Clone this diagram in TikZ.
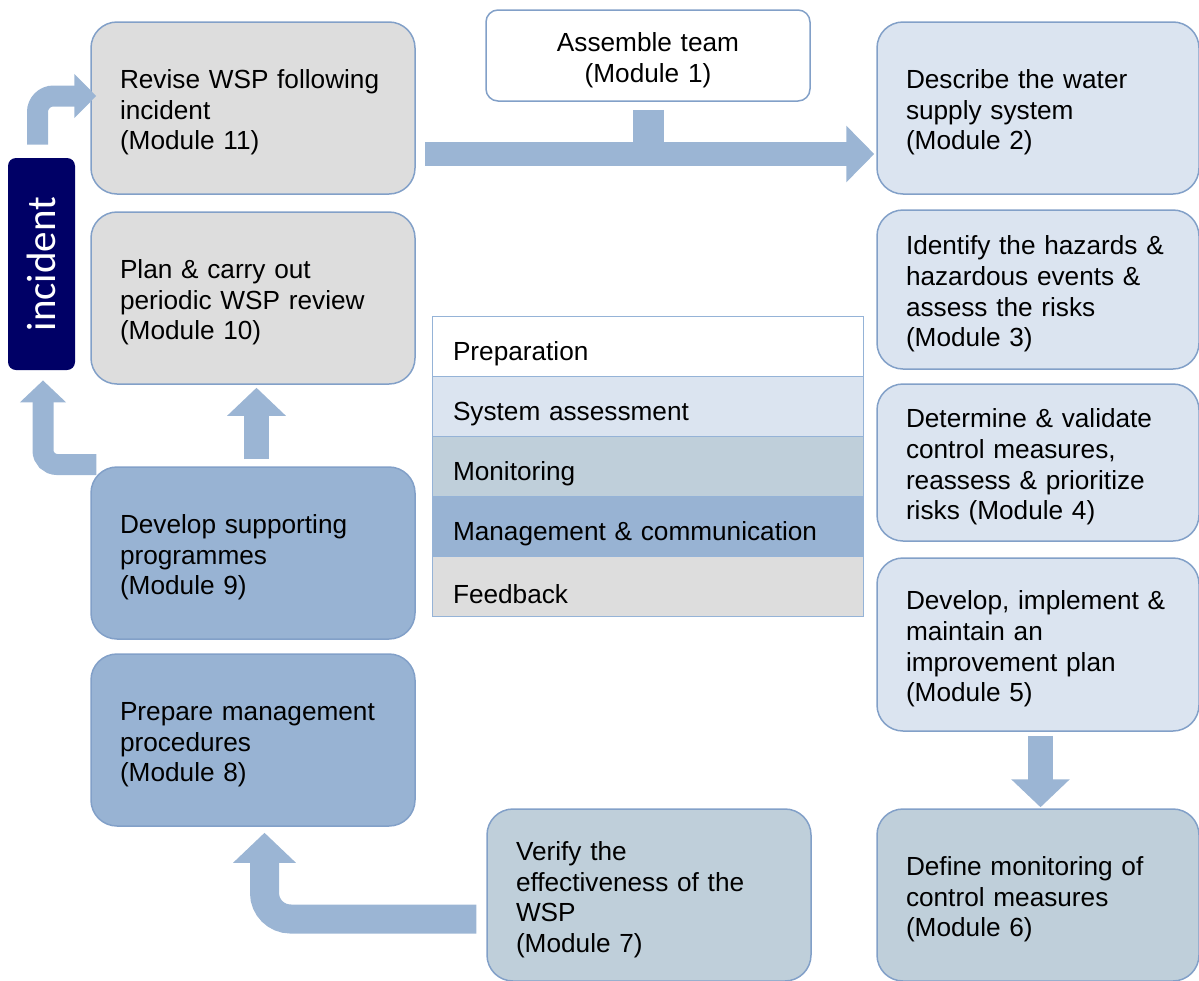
\documentclass[tikz,border=0pt]{standalone}
\usepackage{fontspec}
\setmainfont{Liberation Sans}
\newfontfamily\carlito{Carlito}
\usepackage{xcolor}
\usepackage{tikz}
\usetikzlibrary{arrows.meta}

\definecolor{feedgray}{HTML}{DDDDDD}
\definecolor{assessblue}{HTML}{DBE4F0}
\definecolor{monitorblue}{HTML}{BFCFDA}
\definecolor{managblue}{HTML}{98B3D3}
\definecolor{arrowblue}{HTML}{9BB5D4}
\definecolor{edgeblue}{HTML}{82A0C8}
\definecolor{legendedge}{HTML}{95B3D7}
\definecolor{navy}{HTML}{000066}

\begin{document}
\begin{tikzpicture}[x=0.5pt,y=-0.5pt,
    every node/.style={font=\fontsize{13.1}{15.3}\selectfont},
    module/.style={draw=edgeblue,line width=0.75pt,rounded corners=13pt,text width=133pt,align=left,inner xsep=14.5pt,minimum height=86pt,execute at begin node={\rule{0pt}{14pt}}},
    rmodule/.style={module,text width=132pt},
    legendrow/.style={draw=legendedge,line width=0.5pt,text width=194.5pt,align=left,inner xsep=10.5pt,minimum height=30pt,execute at begin node={\rule{0pt}{17.5pt}}},
    bigarrow/.style={arrowblue,line width=#1}]
	\useasboundingbox (0,0) rectangle (1199,980);
	\node[module,fill=feedgray] (m11) at (253,108) {Revise WSP following\\incident\\(Module 11)};
	\node[module,fill=feedgray] (m10) at (253,298) {Plan \& carry out\\periodic WSP review\\(Module 10)};
	\node[module,fill=managblue] (m9) at (253,553) {Develop supporting\\programmes\\(Module 9)};
	\node[module,fill=managblue] (m8) at (253,740) {Prepare management\\procedures\\(Module 8)};
	\node[module,fill=monitorblue] (m7) at (649,895) {Verify the\\effectiveness of the\\WSP\\(Module 7)};
	\node[module,fill=white,rounded corners=6pt,minimum height=45.5pt,align=center] (m1) at (648,55.5) {Assemble team\\(Module 1)};
	\node[rmodule,fill=assessblue] (m2) at (1038,108) {Describe the water\\supply system\\(Module 2)};
	\node[rmodule,fill=assessblue,minimum height=79.5pt] (m3) at (1038,289.5) {Identify the hazards \&\\hazardous events \&\\assess the risks\\(Module 3)};
	\node[rmodule,fill=assessblue,minimum height=78.5pt] (m4) at (1038,462.5) {Determine \& validate\\control measures,\\reassess \& prioritize\\risks (Module 4)};
	\node[rmodule,fill=assessblue,minimum height=86.5pt] (m5) at (1038,644.5) {Develop, implement \&\\maintain an\\improvement plan\\(Module 5)};
	\node[rmodule,fill=monitorblue] (m6) at (1038,895) {Define monitoring of\\control measures\\(Module 6)};
	\node[fill=navy,rounded corners=4pt,minimum width=33.5pt,minimum height=106pt,text=white,font=\carlito\fontsize{20.5}{24}\selectfont] (incident) at (41.5,264) {\rotatebox{90}{incident}};
	\node[legendrow,fill=white] (prep) at (647.5,346) {Preparation};
	\node[legendrow,fill=assessblue] (sysas) at (647.5,406) {System assessment};
	\node[legendrow,fill=monitorblue] (monit) at (647.5,466) {Monitoring};
	\node[legendrow,fill=managblue] (manag) at (647.5,526) {Management \& communication};
	\node[legendrow,fill=feedgray] (feedb) at (647.5,586) {Feedback};
	\draw[bigarrow=12pt,-{Triangle[width=27.5pt,length=14pt]}] ([shift={(4.5pt,-23pt)}]m11.east) coordinate (feed) -- ([shift={(-1pt,-23pt)}]m2.west);
	\draw[bigarrow=15.5pt] ([yshift=-4pt]m1.south) -- (m1.south |- feed);
	\draw[bigarrow=10.5pt,rounded corners=8pt,-{Triangle[width=21.5pt,length=11pt]}] ([shift={(-2pt,6.5pt)}]incident.north) |- ([shift={(3pt,6pt)}]m11.west);
	\draw[bigarrow=10.5pt,rounded corners=7pt,-{Triangle[width=22.5pt,length=11pt]}] ([shift={(3pt,44.25pt)}]m9.west) -| ([shift={(0.75pt,-5pt)}]incident.south);
	\draw[bigarrow=12.5pt,-{Triangle[width=28.5pt,length=14pt]}] ([shift={(1.75pt,3.5pt)}]m9.north) -- ([shift={(1.75pt,-1.5pt)}]m10.south);
	\draw[bigarrow=14.5pt,rounded corners=13pt,-{Triangle[width=30.5pt,length=15pt]}] ([shift={(-5pt,-12pt)}]m7.west) -| ([shift={(5.75pt,-3pt)}]m8.south);
	\draw[bigarrow=12.5pt,-{Triangle[width=28.5pt,length=14pt]}] ([shift={(1.25pt,-2pt)}]m5.south) -- ([shift={(1.25pt,0.5pt)}]m6.north);
\end{tikzpicture}
\end{document}
